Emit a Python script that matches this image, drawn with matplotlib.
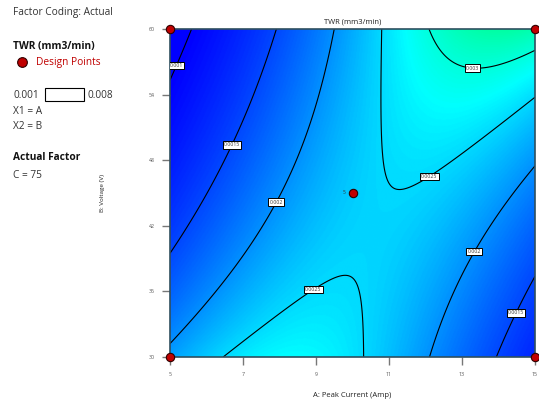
import numpy as np
import matplotlib
matplotlib.use("Agg")
import matplotlib.pyplot as plt
from matplotlib.colors import LinearSegmentedColormap
from matplotlib.patches import Rectangle

plt.rcParams['font.family'] = ['Open Sans', 'DejaVu Sans']

# factor ranges (actual units)
a_range = [5, 15]      # A: Peak Current (Amp)
b_range = [30, 60]     # B: Voltage (V)

# fitted model, coded units, response transform 1/TWR
# terms: intercept, A, B, AB, A^2, B^2
inv_coef = [415.5, -120.2, 34.1, -278.9, 245.0, 8.0]

levels = [0.001, 0.0015, 0.002, 0.0025, 0.003]
x_ticks = [5, 7, 9, 11, 13, 15]
y_ticks = [30, 36, 42, 48, 54, 60]

# design points at C = 75
pts_a = [5, 5, 15, 15, 10]
pts_b = [30, 60, 30, 60, 45]
center_reps = 5

color_lo, color_hi = 0.001, 0.008

a = np.linspace(a_range[0], a_range[1], 400)
b = np.linspace(b_range[0], b_range[1], 400)
A, B = np.meshgrid(a, b)
xc = (A - 10) / 5
yc = (B - 45) / 15
c = inv_coef
inv = c[0] + c[1]*xc + c[2]*yc + c[3]*xc*yc + c[4]*xc**2 + c[5]*yc**2
twr = 1.0 / inv

cmap = LinearSegmentedColormap.from_list(
    "de", ["#0000ff", "#00ffff", "#00ff00", "#ffff00", "#ff0000"])

fig = plt.figure(figsize=(5.39, 4.01), dpi=100)
ax = fig.add_axes([170/539, 1 - 357/401, 365/539, 328/401])

ax.imshow(twr, origin="lower", extent=[5, 15, 30, 60], aspect="auto",
          cmap=cmap, vmin=color_lo, vmax=color_hi, interpolation="bilinear")
cs = ax.contour(A, B, twr, levels=levels, colors="black", linewidths=0.8)

label_pos = [(5.3, 56.5), (6.7, 49.4), (8.0, 44.0), (9.1, 35.3),
             (11.8, 48.1), (13.3, 56.9), (13.1, 40.1), (14.5, 34.0)]
lbls = ax.clabel(cs, fmt=lambda v: ("%.4f" % v).rstrip("0"), fontsize=3.7,
                 inline=False, manual=label_pos)
for t in lbls:
    t.set_rotation(0)
    t.set_color("#333333")
    t.set_bbox(dict(boxstyle="square,pad=0.25", fc="white", ec="black", lw=0.7))

ax.plot(pts_a, pts_b, "o", ms=6, mfc="#c00000", mec="#300000", mew=0.8,
        clip_on=False, zorder=5)
ax.text(pts_a[-1] - 0.2, pts_b[-1], str(center_reps), fontsize=3.5,
        color="#333333", ha="right", va="center")

ax.set_xlim(a_range)
ax.set_ylim(b_range)
ax.set_xticks(x_ticks)
ax.set_yticks(y_ticks)
ax.tick_params(direction="out", length=6, width=1, color="#777777",
               labelsize=3.8, labelcolor="#555555", pad=5)
for s in ax.spines.values():
    s.set_color("#2f4f5f")
    s.set_linewidth(1.2)

ax.set_title("TWR (mm3/min)", fontsize=5.5, pad=4, color="#222222")
ax.set_xlabel("A: Peak Current (Amp)", fontsize=5.5, color="#222222")
ax.xaxis.label.set_va("center")
ax.xaxis.set_label_coords(0.5, -0.117)
ax.set_ylabel("B: Voltage (V)", fontsize=4.5, color="#222222")
ax.yaxis.set_label_coords(-0.178, 0.5)

# left-hand legend panel
def ftxt(x, y, s, **kw):
    fig.text(x/539, 1 - y/401, s, va="center", ha="left", **kw)

fs = 7.3
ftxt(13, 13, "Factor Coding: Actual", fontsize=fs, color="#333333")
ftxt(13, 46, "TWR (mm3/min)", fontsize=fs, fontweight="bold", color="#111111")
fig.lines.append(plt.Line2D([22/539], [1 - 62/401], marker="o", ms=7,
                            mfc="#c00000", mec="#300000", mew=0.8,
                            transform=fig.transFigure))
ftxt(36, 62, "Design Points", fontsize=fs, color="#c00000")
ftxt(13, 95, "0.001", fontsize=fs, color="#333333")
fig.patches.append(Rectangle((45/539, 1 - 101/401), 39/539, 13/401,
                             fc="white", ec="black", lw=0.8,
                             transform=fig.transFigure))
ftxt(88, 95, "0.008", fontsize=fs, color="#333333")
ftxt(13, 111, "X1 = A", fontsize=fs, color="#333333")
ftxt(13, 127, "X2 = B", fontsize=fs, color="#333333")
ftxt(13, 158, "Actual Factor", fontsize=fs, fontweight="bold", color="#111111")
ftxt(13, 175, "C = 75", fontsize=fs, color="#333333")

fig.savefig("out.png", dpi=100)
